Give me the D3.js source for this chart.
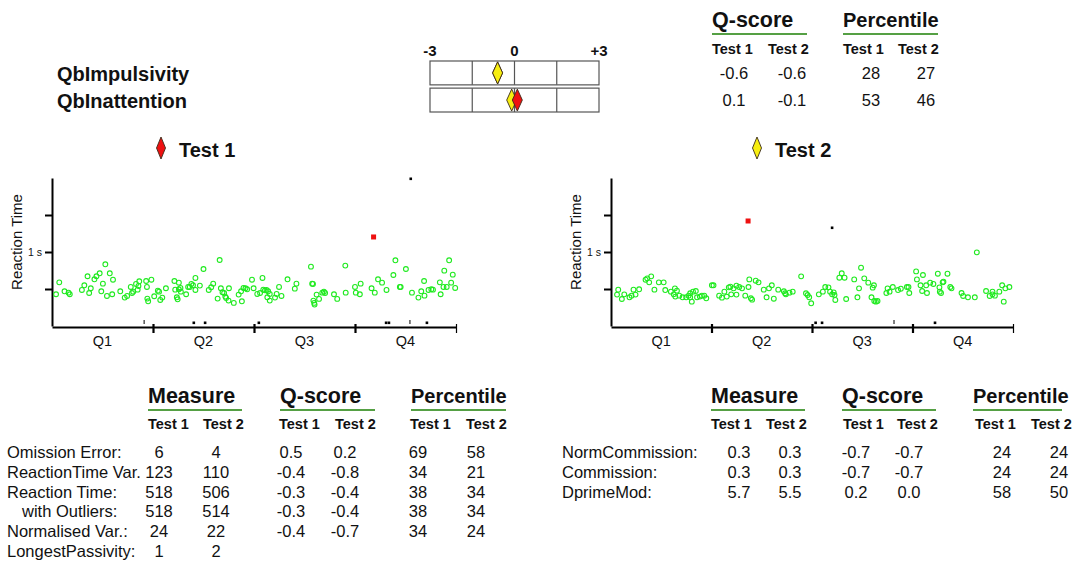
<!DOCTYPE html>
<html>
<head>
<meta charset="utf-8">
<script src="https://cdn.jsdelivr.net/npm/d3@7"></script>
<style>
  body { margin: 0; background: #fff; }
  svg text { font-family: "Liberation Sans", Arial, sans-serif; fill: #111; }
</style>
</head>
<body>
<svg id="chart" width="1075" height="565"></svg>
<script>
// --- summary scale (Q-scores) ---
const scaleRows = ["QbImpulsivity", "QbInattention"];
const scaleQ1 = [-0.6, 0.1];
const scaleQ2 = [-0.6, -0.1];
const scalePct1 = [28, 53];
const scalePct2 = [27, 46];
const scaleTicks = ["-3", "0", "+3"];

// --- reaction time scatter, x = % of test duration, y = ms ---
const test1Trials = [
  [1.0,429],[1.8,590],[3.1,469],[4.1,451],[4.4,429],[7.4,487],[8.0,550],[8.8,672],[9.2,446],[9.6,510],
  [10.5,631],[11.0,672],[11.8,712],[12.2,469],[12.6,572],[13.2,834],[13.6,406],[14.3,712],[14.9,429],[15.1,626],
  [16.9,469],[18.0,384],[18.6,406],[19.5,528],[19.8,446],[20.1,464],[20.8,568],[21.2,491],[21.6,604],[21.4,541],
  [23.3,608],[23.5,528],[23.6,370],[23.8,334],[24.6,626],[25.3,402],[26.2,478],[26.5,464],[26.8,352],[27.3,384],
  [28.2,510],[30.3,608],[30.5,491],[30.9,388],[31.1,361],[31.4,586],[31.4,496],[31.8,514],[31.9,464],[33.2,429],
  [33.7,528],[34.1,528],[34.5,568],[34.9,550],[35.5,649],[35.5,487],[36.6,546],[37.5,770],[38.8,487],[39.4,523],
  [39.9,572],[41.0,370],[41.5,892],[41.8,510],[42.2,456],[42.6,446],[42.9,397],[43.1,379],[43.8,510],[43.7,343],
  [45.0,312],[46.2,424],[46.8,469],[47.0,334],[47.4,514],[47.9,510],[48.3,496],[49.5,626],[49.9,510],
  [50.8,433],[51.5,446],[52.1,649],[52.3,491],[52.7,482],[53.1,487],[53.3,388],[53.5,469],[53.9,343],[53.9,433],
  [55.2,384],[55.6,433],[56.2,528],[56.8,406],[58.3,631],[60.1,505],[60.5,572],[64.1,802],[64.4,572],[64.6,568],
  [64.7,343],[64.9,312],[65.0,289],[65.5,424],[66.1,366],[66.9,451],[67.3,464],[67.6,446],[69.8,429],[70.6,366],
  [72.6,816],[72.7,451],[75.0,528],[75.2,451],[76.2,429],[76.4,572],[79.1,510],[79.9,451],[80.7,631],[81.7,586],
  [82.8,487],[84.5,689],[85.0,888],[86.1,528],[86.3,528],[87.6,770],[89.1,451],[90.7,384],[91.4,469],[92.1,608],
  [92.2,410],[93.2,487],[93.9,496],[94.3,491],[96.0,590],[96.2,429],[96.9,528],[97.1,748],[97.7,528],[98.3,888],
  [98.8,586],[99.2,694],[99.8,514]
];
const test2Trials = [
  [1.5,424],[1.8,491],[2.7,365],[3.3,428],[4.6,388],[5.1,410],[5.6,491],[6.1,424],[7.0,496],[8.6,626],
  [9.0,644],[9.5,590],[10.0,671],[10.8,491],[11.9,590],[13.1,590],[13.5,486],[14.9,464],[15.6,428],[15.9,509],
  [16.0,397],[16.4,478],[17.0,410],[17.8,388],[18.7,388],[19.3,410],[19.7,442],[19.7,388],[20.1,329],[20.4,464],
  [21.1,473],[21.4,388],[22.1,397],[22.6,410],[23.2,410],[23.7,374],[25.1,550],[25.5,550],[26.9,410],[27.6,383],
  [28.2,464],[28.8,397],[29.3,522],[29.7,531],[29.9,428],[30.5,509],[31.2,545],[31.2,424],[31.9,527],[32.6,509],
  [33.4,410],[34.2,527],[34.4,630],[34.8,374],[35.1,356],[36.0,612],[36.7,590],[38.0,491],[38.7,388],[39.3,509],
  [40.0,550],[40.5,369],[41.6,491],[43.0,469],[43.3,442],[43.5,428],[44.4,451],[45.2,464],[47.3,671],[48.5,442],
  [48.9,419],[49.3,388],[49.8,307],
  [51.7,428],[52.7,464],[53.3,527],[54.1,522],[54.5,464],[55.0,428],[55.4,455],[55.6,419],[55.8,352],[56.8,653],
  [57.4,712],[58.1,653],[58.5,365],[60.5,630],[61.3,388],[61.7,509],[62.2,788],[63.0,644],[64.0,586],[64.8,388],
  [65.1,518],[65.4,550],[65.5,338],[65.9,329],[66.3,338],[68.5,446],[68.8,509],[69.3,464],[70.1,527],[71.4,486],
  [72.1,504],[73.6,527],[74.0,527],[74.2,446],[75.9,738],[76.1,630],[77.0,550],[77.4,473],[77.6,689],[78.4,550],
  [78.6,446],[79.4,586],[80.2,568],[81.3,707],[81.7,522],[81.8,464],[82.1,446],[82.5,590],[82.7,599],[83.7,707],
  [84.4,527],[84.7,509],[87.2,446],[87.6,406],[88.8,388],[90.5,388],[91.0,995],[93.3,473],[94.2,406],[94.9,464],
  [94.9,428],[95.5,410],[96.6,464],[97.3,550],[97.7,329],[98.1,509],[99.1,527]
];
// red squares / black dots above the normal range
const test1Slow = [[79.6, 1203]];
const test1Clipped = [[88.8, 2000]];
const test2Slow = [[34.1, 1419]];
const test2Clipped = [[55.0, 1338]];
// small markers sitting on the x axis
const test1MarkDots = [35.1, 37.9, 51.2, 82.7, 83.4, 92.8];
const test1MarkTicks = [22.8, 88.6];
const test2MarkDots = [50.9, 52.5, 80.6];
const test2MarkTicks = [70.4];
const quarters = ["Q1", "Q2", "Q3", "Q4"];

// --- bottom tables ---
const attnRows = ["Omission Error:", "ReactionTime Var.", "Reaction Time:", "with Outliers:", "Normalised Var.:", "LongestPassivity:"];
const attnMeasure1 = ["6", "123", "518", "518", "24", "1"];
const attnMeasure2 = ["4", "110", "506", "514", "22", "2"];
const attnQ1 = ["0.5", "-0.4", "-0.3", "-0.3", "-0.4", ""];
const attnQ2 = ["0.2", "-0.8", "-0.4", "-0.4", "-0.7", ""];
const attnPct1 = ["69", "34", "38", "38", "34", ""];
const attnPct2 = ["58", "21", "34", "34", "24", ""];

const impRows = ["NormCommission:", "Commission:", "DprimeMod:"];
const impMeasure1 = ["0.3", "0.3", "5.7"];
const impMeasure2 = ["0.3", "0.3", "5.5"];
const impQ1 = ["-0.7", "-0.7", "0.2"];
const impQ2 = ["-0.7", "-0.7", "0.0"];
const impPct1 = ["24", "24", "58"];
const impPct2 = ["24", "24", "50"];

const RED = "#ee1111", YELLOW = "#f7ee10", GREEN_LINE = "#55a044", DOT_GREEN = "#1fea1f";
const VAL_FONT = 16.5;

const svg = d3.select("#chart");
svg.append("rect").attr("width", 1075).attr("height", 565).attr("fill", "#fff");

function diamond(g, cx, cy, w, h, fill) {
  g.append("path")
    .attr("d", `M${cx},${cy - h / 2}L${cx + w / 2},${cy}L${cx},${cy + h / 2}L${cx - w / 2},${cy}Z`)
    .attr("fill", fill)
    .attr("stroke", "#3a2a1a")
    .attr("stroke-width", 0.9);
}

// ---------- top: Q-score scale ----------
const qx = d3.scaleLinear().domain([-3, 3]).range([430, 599]);
const rowY = d3.scaleBand().domain(scaleRows).range([61, 112]).paddingInner(0.12);

scaleTicks.forEach((t) => {
  svg.append("text")
    .attr("x", qx(+t))
    .attr("y", 56)
    .attr("text-anchor", "middle")
    .attr("font-size", 15)
    .attr("font-weight", "bold")
    .text(t);
});

scaleRows.forEach((name, i) => {
  const y0 = rowY(name), bh = rowY.bandwidth();
  svg.append("text")
    .attr("x", 57)
    .attr("y", y0 + bh / 2 + 8)
    .attr("font-size", 20)
    .attr("font-weight", "bold")
    .text(name);
  svg.append("rect")
    .attr("x", qx(-3)).attr("y", y0)
    .attr("width", qx(3) - qx(-3)).attr("height", bh)
    .attr("fill", "#fff").attr("stroke", "#555").attr("stroke-width", 1.2);
  [-1.5, 0, 1.5].forEach((v) => {
    svg.append("line")
      .attr("x1", qx(v)).attr("x2", qx(v))
      .attr("y1", y0).attr("y2", y0 + bh)
      .attr("stroke", "#555").attr("stroke-width", 1.2);
  });
  // lower value first, Test 2 on top when equal
  const marks = [
    { v: scaleQ1[i], c: RED, o: 0 },
    { v: scaleQ2[i], c: YELLOW, o: 1 },
  ].sort((a, b) => a.v - b.v || a.o - b.o);
  marks.forEach((m) => diamond(svg, qx(m.v), y0 + bh / 2, 10, 22, m.c));
});

// ---------- top right table ----------
function header(x0, x1, label, yBase, yLine) {
  svg.append("text")
    .attr("x", x0).attr("y", yBase)
    .attr("font-size", label === "Percentile" ? 20 : 21.5).attr("font-weight", "bold")
    .text(label);
  svg.append("line")
    .attr("x1", x0).attr("x2", x1)
    .attr("y1", yLine).attr("y2", yLine)
    .attr("stroke", GREEN_LINE).attr("stroke-width", 2.2);
}
function subHeads(xs, yBase) {
  xs.forEach((x, i) => {
    svg.append("text")
      .attr("x", x).attr("y", yBase)
      .attr("font-size", 14.5).attr("font-weight", "bold")
      .text(i % 2 === 0 ? "Test 1" : "Test 2");
  });
}
function valueCol(vals, cx, ys, anchor = "middle") {
  vals.forEach((v, i) => {
    svg.append("text")
      .attr("x", cx).attr("y", ys[i])
      .attr("text-anchor", anchor)
      .attr("font-size", VAL_FONT)
      .text(v);
  });
}

header(712, 807, "Q-score", 27, 34);
header(843, 938, "Percentile", 27, 34);
subHeads([712, 768, 843, 898], 54);
const topYs = [79, 106];
valueCol(scaleQ1.map((d) => d.toFixed(1)), 734, topYs);
valueCol(scaleQ2.map((d) => d.toFixed(1)), 792, topYs);
valueCol(scalePct1, 871, topYs);
valueCol(scalePct2, 926, topYs);

// ---------- reaction time scatter charts ----------
function drawRT(opts) {
  const { left, right, title, color, titleX, trials, slow, clipped, dots, ticks } = opts;
  const top = 178, bottom = 326;
  const x = d3.scaleLinear().domain([0, 100]).range([left, right]);
  const y = d3.scaleLinear().domain([0, 2000]).range([bottom, top]);
  const g = svg.append("g");

  diamond(g, titleX, 148, 9, 22, color);
  g.append("text")
    .attr("x", titleX + 18).attr("y", 157)
    .attr("font-size", 20).attr("font-weight", "bold")
    .text(title);

  g.append("text")
    .attr("transform", `translate(${left - 30},${(top + bottom) / 2 - 10}) rotate(-90)`)
    .attr("text-anchor", "middle")
    .attr("font-size", 15)
    .attr("fill", "#222")
    .text("Reaction Time");

  const yAxis = g.append("g")
    .attr("transform", `translate(${left},0)`)
    .call(d3.axisLeft(y).tickValues([500, 1000, 1500]).tickSize(7).tickSizeOuter(0).tickPadding(3)
      .tickFormat((d) => (d === 1000 ? "1 s" : "")));
  yAxis.select(".domain").attr("stroke-width", 2);
  yAxis.selectAll(".tick line").attr("stroke-width", 2);
  yAxis.selectAll(".tick text").attr("font-size", 10.5).attr("font-family", "Liberation Sans, Arial, sans-serif");

  const xAxis = g.append("g")
    .attr("transform", `translate(0,${bottom + 1})`)
    .call(d3.axisBottom(x).tickValues([25, 50, 75, 100]).tickSize(6).tickSizeOuter(0).tickFormat(""));
  xAxis.select(".domain").attr("stroke-width", 2);
  xAxis.selectAll(".tick line")
    .attr("y1", -3)
    .attr("stroke-width", (d) => (d === 100 ? 1.2 : 2.2));

  g.selectAll(".qlab")
    .data(quarters)
    .join("text")
    .attr("x", (d, i) => x(i * 25 + 12.5))
    .attr("y", bottom + 20)
    .attr("text-anchor", "middle")
    .attr("font-size", 14.5)
    .attr("fill", "#222")
    .text((d) => d);

  g.selectAll(".mdot")
    .data(dots)
    .join("rect")
    .attr("x", (d) => x(d) - 1.3)
    .attr("y", bottom - 4.5)
    .attr("width", 2.6).attr("height", 2.6)
    .attr("fill", "#000");
  g.selectAll(".mtick")
    .data(ticks)
    .join("rect")
    .attr("x", (d) => x(d) - 0.5)
    .attr("y", bottom - 6)
    .attr("width", 1).attr("height", 4)
    .attr("fill", "#000");

  g.selectAll(".trial")
    .data(trials)
    .join("circle")
    .attr("cx", (d) => x(d[0]))
    .attr("cy", (d) => y(d[1]))
    .attr("r", 2.4)
    .attr("fill", "none")
    .attr("stroke", DOT_GREEN)
    .attr("stroke-width", 1.1);

  g.selectAll(".slow")
    .data(slow)
    .join("rect")
    .attr("x", (d) => x(d[0]) - 2.5)
    .attr("y", (d) => y(d[1]) - 2.5)
    .attr("width", 5).attr("height", 5)
    .attr("fill", RED);

  g.selectAll(".clip")
    .data(clipped)
    .join("rect")
    .attr("x", (d) => x(d[0]) - 1.3)
    .attr("y", (d) => y(d[1]) - 0.5)
    .attr("width", 2.6).attr("height", 2.6)
    .attr("fill", "#000");
}

drawRT({
  left: 52, right: 456, title: "Test 1", color: RED, titleX: 161,
  trials: test1Trials, slow: test1Slow, clipped: test1Clipped,
  dots: test1MarkDots, ticks: test1MarkTicks,
});
drawRT({
  left: 611, right: 1013, title: "Test 2", color: YELLOW, titleX: 757,
  trials: test2Trials, slow: test2Slow, clipped: test2Clipped,
  dots: test2MarkDots, ticks: test2MarkTicks,
});

// ---------- bottom tables ----------
const rowYs = d3.range(6).map((i) => 458 + i * 19.8);

header(148, 242, "Measure", 403, 410);
header(280, 375, "Q-score", 403, 410);
header(411, 506, "Percentile", 403, 410);
subHeads([148, 203, 279, 335, 410, 466], 429);
attnRows.forEach((r, i) => {
  svg.append("text")
    .attr("x", r.startsWith("with") ? 22 : 7)
    .attr("y", rowYs[i])
    .attr("font-size", VAL_FONT)
    .text(r);
});
valueCol(attnMeasure1, 159, rowYs);
valueCol(attnMeasure2, 216, rowYs);
valueCol(attnQ1, 291, rowYs);
valueCol(attnQ2, 345, rowYs);
valueCol(attnPct1, 418, rowYs);
valueCol(attnPct2, 476, rowYs);

header(711, 805, "Measure", 403, 410);
header(842, 936, "Q-score", 403, 410);
header(973, 1062, "Percentile", 403, 410);
subHeads([711, 766, 843, 897, 975, 1031], 429);
impRows.forEach((r, i) => {
  svg.append("text")
    .attr("x", 562)
    .attr("y", rowYs[i])
    .attr("font-size", VAL_FONT)
    .text(r);
});
valueCol(impMeasure1, 739, rowYs);
valueCol(impMeasure2, 790, rowYs);
valueCol(impQ1, 856, rowYs);
valueCol(impQ2, 909, rowYs);
valueCol(impPct1, 1002, rowYs);
valueCol(impPct2, 1059, rowYs);
</script>
</body>
</html>
